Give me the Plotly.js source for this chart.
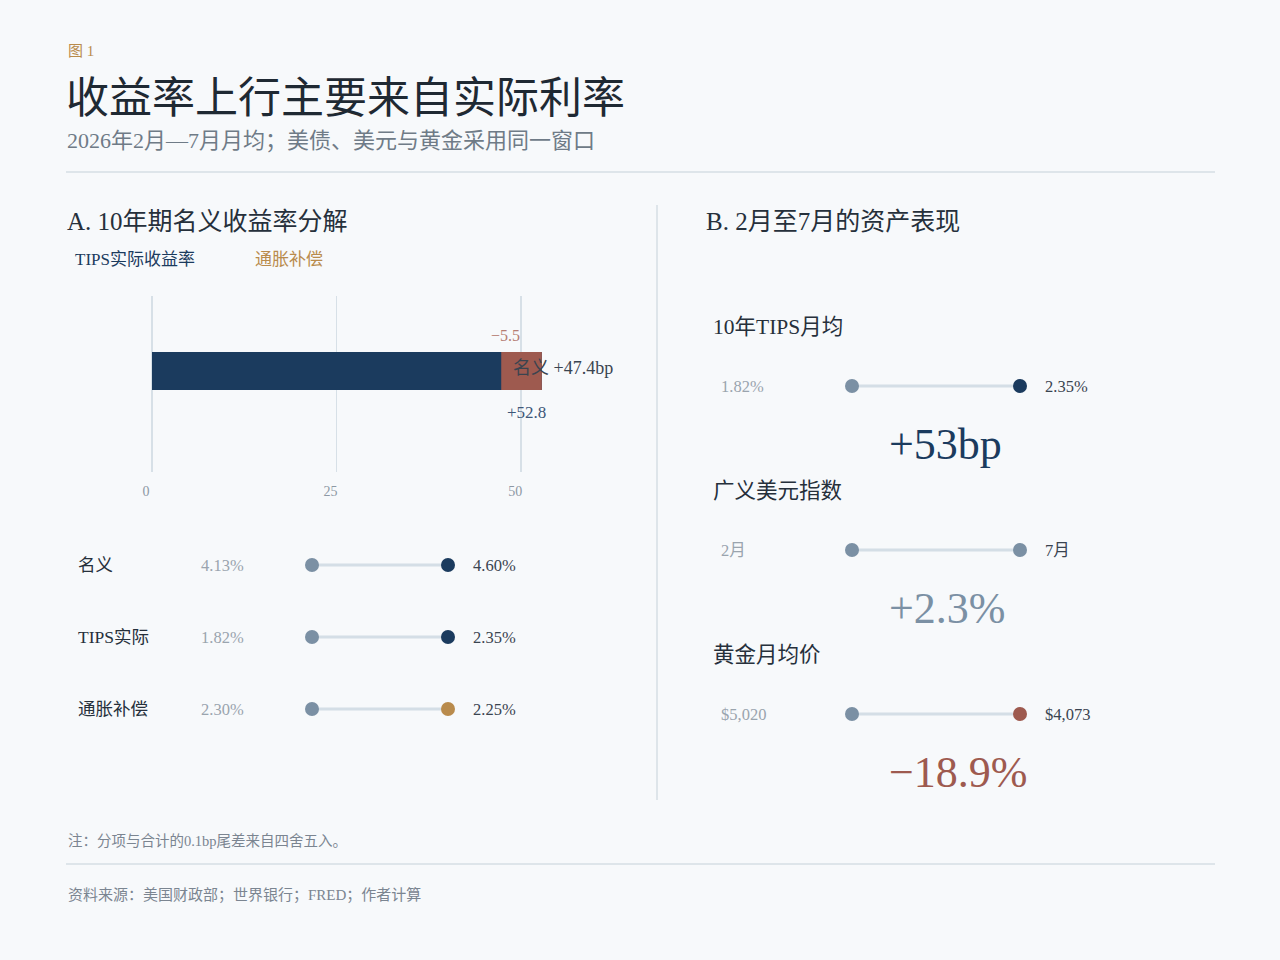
<!DOCTYPE html>
<html>
<head>
<meta charset="utf-8">
<script src="https://cdn.plot.ly/plotly-3.0.1.min.js"></script>
<style>
  html, body { margin: 0; padding: 0; background: #f7f9fb; }
  #chart { width: 1280px; height: 960px; }
</style>
</head>
<body>
<div id="chart"></div>
<script>
(function () {

	'use strict';

	// panel A: decomposition of the 10y nominal change (bp)
	const decompNames = ['TIPS实际收益率', '通胀补偿'];
	const decompValues = [52.8, -5.5];
	const nominalChange = 47.4;
	const barTicks = [0, 25, 50];

	// panel A: monthly averages Feb -> Jul
	const months = ['2月', '7月'];
	const rateNames = ['名义', 'TIPS实际', '通胀补偿'];
	const rateFeb = [4.13, 1.82, 2.30];
	const rateJul = [4.60, 2.35, 2.25];

	// panel B: asset performance
	const assetNames = ['10年TIPS月均', '广义美元指数', '黄金月均价'];
	const assetStart = ['1.82%', '2月', '$5,020'];
	const assetEnd = ['2.35%', '7月', '$4,073'];
	const assetChange = ['+53bp', '+2.3%', '−18.9%'];

	// palette
	const navy = '#1b3b5e';
	const red = '#9e5a4f';
	const gold = '#b98b4c';
	const slate = '#7b90a4';
	const link = '#d4dee6';
	const ink = '#26303b';
	const grey = '#9aa4ae';
	const rule = '#d6dee4';

	const font = '"Liberation Serif", "DejaVu Serif", "Noto Sans CJK SC", serif';

	// pixel -> paper helpers
	const X = px => px / 1280;
	const Y = py => 1 - py / 960;

	const rateEndColors = [navy, navy, gold];
	const assetEndColors = [navy, slate, red];

	/**
	* dumbbell traces on one axis pair
	*/
	const dumbbells = ( n, endColors, xa, ya, size ) => {
		const traces = [];
		for ( let i = 0; i < n; i++ ) {
			traces.push({
				x: months, y: [i, i],
				xaxis: xa, yaxis: ya,
				mode: 'lines', type: 'scatter',
				line: { color: link, width: 3 },
				hoverinfo: 'skip', showlegend: false,
			});
		}
		const rows = [...Array(n).keys()];
		traces.push({
			x: rows.map( () => months[0] ), y: rows,
			xaxis: xa, yaxis: ya,
			mode: 'markers', type: 'scatter', cliponaxis: false,
			marker: { color: slate, size },
			showlegend: false,
		});
		traces.push({
			x: rows.map( () => months[1] ), y: rows,
			xaxis: xa, yaxis: ya,
			mode: 'markers', type: 'scatter', cliponaxis: false,
			marker: { color: endColors, size },
			showlegend: false,
		});
		return traces;
	};

	const data = [
		{
			type: 'bar', orientation: 'h',
			x: [decompValues[0]], y: [0], width: 0.432,
			marker: { color: navy },
			name: decompNames[0], showlegend: false,
			xaxis: 'x', yaxis: 'y',
		},
		{
			type: 'bar', orientation: 'h',
			x: [decompValues[1]], y: [0], base: [decompValues[0]], width: 0.432,
			marker: { color: red },
			name: decompNames[1], showlegend: false,
			xaxis: 'x', yaxis: 'y',
		},
		...dumbbells( rateNames.length, rateEndColors, 'x2', 'y2', 14 ),
		...dumbbells( assetNames.length, assetEndColors, 'x3', 'y3', 14 ),
	];

	const annotations = [];
	const txt = ( o ) => annotations.push( Object.assign({
		showarrow: false, xref: 'paper', yref: 'paper',
		xanchor: 'left', yanchor: 'middle',
	}, o ));

	// header
	txt({ text: '图 1', x: X(66), y: Y(51), font: { family: font, size: 15, color: gold } });
	txt({ text: '2026年2月—7月月均；美债、美元与黄金采用同一窗口', x: X(65), y: Y(141),
		font: { family: font, size: 22, color: '#6f7b87' } });

	// panel titles
	txt({ text: 'A. 10年期名义收益率分解', x: X(65), y: Y(222), font: { family: font, size: 25, color: ink } });
	txt({ text: 'B. 2月至7月的资产表现', x: X(704), y: Y(222), font: { family: font, size: 25, color: ink } });

	// legend as coloured text
	txt({ text: decompNames[0], x: X(73), y: Y(260), font: { family: font, size: 17, color: navy } });
	txt({ text: decompNames[1], x: X(253), y: Y(260), font: { family: font, size: 17, color: gold } });

	// bar labels
	const realEnd = decompValues[0];
	const beMid = decompValues[0] + decompValues[1] / 2;
	annotations.push({
		text: '−' + Math.abs(decompValues[1]).toFixed(1), xref: 'x', yref: 'y',
		x: beMid, y: 0, yshift: 35, xanchor: 'right', yanchor: 'middle', showarrow: false,
		font: { family: font, size: 16, color: '#b57d73' },
	});
	annotations.push({
		text: '+' + realEnd.toFixed(1), xref: 'x', yref: 'y',
		x: realEnd, y: 0, yshift: -42, xanchor: 'right', xshift: 6, yanchor: 'middle', showarrow: false,
		font: { family: font, size: 17, color: '#3d5778' },
	});
	annotations.push({
		text: '名义 +' + nominalChange.toFixed(1) + 'bp', xref: 'x', yref: 'y',
		x: nominalChange, y: 0, yshift: 3, xshift: 9, xanchor: 'left', yanchor: 'middle', showarrow: false,
		font: { family: font, size: 18, color: '#3a4450' },
	});

	// panel A dumbbell labels
	rateNames.forEach( ( name, i ) => {
		annotations.push({ text: name, xref: 'paper', yref: 'y2', x: X(76), y: i,
			xanchor: 'left', yanchor: 'middle', showarrow: false,
			font: { family: font, size: 17.5, color: ink } });
		annotations.push({ text: rateFeb[i].toFixed(2) + '%', xref: 'paper', yref: 'y2', x: X(199), y: i,
			xanchor: 'left', yanchor: 'middle', showarrow: false,
			font: { family: font, size: 16.5, color: grey } });
		annotations.push({ text: rateJul[i].toFixed(2) + '%', xref: 'paper', yref: 'y2', x: X(471), y: i,
			xanchor: 'left', yanchor: 'middle', showarrow: false,
			font: { family: font, size: 16.5, color: '#3a4450' } });
	});

	// panel B labels
	const changeColors = [navy, slate, red];
	assetNames.forEach( ( name, i ) => {
		annotations.push({ text: name, xref: 'paper', yref: 'y3', x: X(711), y: i, yshift: 59,
			xanchor: 'left', yanchor: 'middle', showarrow: false,
			font: { family: font, size: 21.5, color: ink } });
		annotations.push({ text: assetStart[i], xref: 'paper', yref: 'y3', x: X(719), y: i,
			xanchor: 'left', yanchor: 'middle', showarrow: false,
			font: { family: font, size: 16.5, color: grey } });
		annotations.push({ text: assetEnd[i], xref: 'paper', yref: 'y3', x: X(1043), y: i,
			xanchor: 'left', yanchor: 'middle', showarrow: false,
			font: { family: font, size: 16.5, color: '#3a4450' } });
		annotations.push({ text: assetChange[i], xref: 'paper', yref: 'y3', x: X(887), y: i, yshift: -58,
			xanchor: 'left', yanchor: 'middle', showarrow: false,
			font: { family: font, size: 44, color: changeColors[i] } });
	});

	// footer
	txt({ text: '注：分项与合计的0.1bp尾差来自四舍五入。', x: X(66), y: Y(841),
		font: { family: font, size: 14.5, color: '#7b8591' } });
	txt({ text: '资料来源：美国财政部；世界银行；FRED；作者计算', x: X(66), y: Y(895),
		font: { family: font, size: 15, color: '#7b8591' } });

	const shapes = [
		{ type: 'line', xref: 'paper', yref: 'paper', x0: X(66), x1: X(1215), y0: Y(172), y1: Y(172),
			line: { color: rule, width: 1.5 } },
		{ type: 'line', xref: 'paper', yref: 'paper', x0: X(657), x1: X(657), y0: Y(205), y1: Y(800),
			line: { color: rule, width: 1.5 } },
		{ type: 'line', xref: 'paper', yref: 'paper', x0: X(66), x1: X(1215), y0: Y(864), y1: Y(864),
			line: { color: rule, width: 1.5 } },
	];

	const hidden = { visible: false, fixedrange: true };

	const layout = {
		width: 1280, height: 960,
		margin: { l: 0, r: 0, t: 0, b: 0 },
		paper_bgcolor: '#f7f9fb',
		plot_bgcolor: 'rgba(0,0,0,0)',
		barmode: 'overlay',
		showlegend: false,
		font: { family: font },
		title: {
			text: '收益率上行主要来自实际利率',
			x: X(66), xanchor: 'left', xref: 'paper',
			y: Y(98), yanchor: 'middle', yref: 'paper',
			font: { family: font, size: 43, color: '#1f2933' },
		},
		xaxis: {
			domain: [X(152), X(595)], range: [0, 60],
			tickvals: barTicks, ticktext: barTicks.map( String ),
			showgrid: true, gridcolor: '#d7e0e7', gridwidth: 1.5,
			zeroline: true, zerolinecolor: '#d7e0e7', zerolinewidth: 1.5,
			showline: false, ticks: '',
			ticklabelstandoff: 9, ticklabelshift: -6,
			tickfont: { family: font, size: 14, color: '#8d98a4' },
			fixedrange: true, anchor: 'y',
		},
		yaxis: Object.assign({ domain: [Y(472), Y(296)], range: [-1.148, 0.852], anchor: 'x' }, hidden),
		xaxis2: Object.assign({ domain: [X(244), X(516)], range: [-0.5, 1.5], type: 'category',
			categoryarray: months, anchor: 'y2' }, hidden),
		yaxis2: Object.assign({ domain: [Y(745), Y(529)], range: [2.5, -0.5], anchor: 'x2' }, hidden),
		xaxis3: Object.assign({ domain: [X(768), X(1104)], range: [-0.5, 1.5], type: 'category',
			categoryarray: months, anchor: 'y3' }, hidden),
		yaxis3: Object.assign({ domain: [Y(796), Y(304)], range: [2.5, -0.5], anchor: 'x3' }, hidden),
		annotations,
		shapes,
	};

	Plotly.newPlot( 'chart', data, layout, { displayModeBar: false, staticPlot: true } );

})();
</script>
</body>
</html>
